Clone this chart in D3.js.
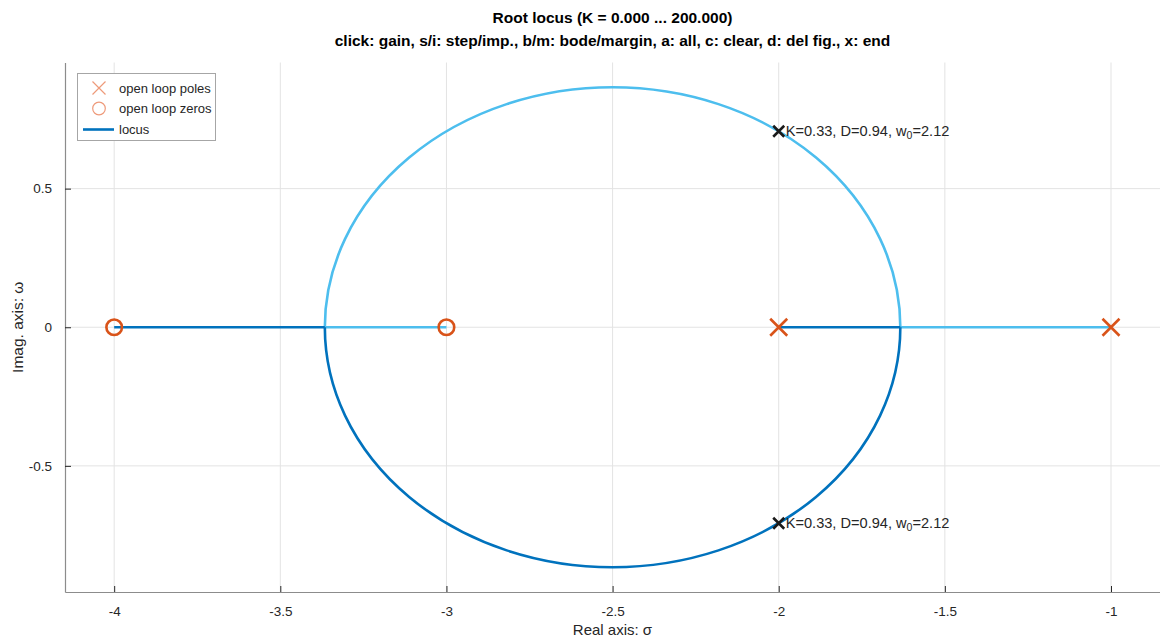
<!DOCTYPE html>
<html>
<head>
<meta charset="utf-8">
<script src="https://cdn.jsdelivr.net/npm/d3@7"></script>
<style>
  body { margin: 0; background: #fff; }
  svg { display: block; font-family: "Liberation Sans", Arial, sans-serif; }
</style>
</head>
<body>
<svg id="chart" width="1160" height="639"></svg>
<script>
// ---- data ----
const titleLines = ["Root locus (K = 0.000 ... 200.000)",
  "click: gain, s/i: step/imp., b/m: bode/margin, a: all, c: clear, d: del fig., x: end"];
const xTicks = [-4, -3.5, -3, -2.5, -2, -1.5, -1];
const yTicks = [-0.5, 0, 0.5];
const poles = [[-1, 0], [-2, 0]];
const zeros = [[-3, 0], [-4, 0]];
const breakaway = [-1.634, -3.366];
const circleCenter = [-2.5, 0];
const circleRadius = 0.866;
// branch starting at pole -1 (light blue): real-axis pieces + upper half circle
const lightAxisSegs = [[[-1, 0], [-1.634, 0]], [[-3.366, 0], [-3, 0]]];
// branch starting at pole -2 (dark blue): real-axis pieces + lower half circle
const darkAxisSegs = [[[-2, 0], [-1.634, 0]], [[-3.366, 0], [-4, 0]]];
const gainPoints = [[-2, 0.707], [-2, -0.707]];
const gainLabel = ["K=0.33, D=0.94, w", "0", "=2.12"];
const legendItems = ["open loop poles", "open loop zeros", "locus"];

// ---- layout ----
const svg = d3.select("#chart");
const pLeft = 65, pRight = 1161, pTop = 62.5, pBottom = 592;
const x = d3.scaleLinear().domain([-4.148, -1 + (pRight - 1111) / 332.2]).range([pLeft, pRight]);
const y = d3.scaleLinear().domain([-0.955, 0.955]).range([pBottom, pTop]);
const darkBlue = "#0072BD", lightBlue = "#4DBEEE", orange = "#D95319", txt = "#262626";

svg.append("defs").append("clipPath").attr("id", "clip")
  .append("rect").attr("x", pLeft).attr("y", pTop).attr("width", pRight - pLeft).attr("height", pBottom - pTop);

// grid
const grid = svg.append("g");
grid.selectAll("line.gx").data(xTicks).join("line")
  .attr("x1", d => x(d)).attr("x2", d => x(d)).attr("y1", pTop).attr("y2", pBottom)
  .attr("stroke", "#e3e3e3").attr("stroke-width", 1);
grid.selectAll("line.gy").data(yTicks).join("line")
  .attr("y1", d => y(d)).attr("y2", d => y(d)).attr("x1", pLeft).attr("x2", pRight)
  .attr("stroke", "#e3e3e3").attr("stroke-width", 1);

// axes
const fmt = d => String(d);
const xAxis = d3.axisBottom(x).tickValues(xTicks).tickSizeInner(-6).tickSizeOuter(0).tickPadding(14).tickFormat(fmt);
const gx = svg.append("g").attr("transform", `translate(0,${pBottom})`).call(xAxis);
const yAxis = d3.axisLeft(y).tickValues(yTicks).tickSizeInner(-6).tickSizeOuter(0).tickPadding(13).tickFormat(fmt);
const gy = svg.append("g").attr("transform", `translate(${pLeft},0)`).call(yAxis);
[gx, gy].forEach(g => {
  g.select(".domain").attr("stroke", "#8c8c8c").attr("stroke-width", 1.2);
  g.selectAll(".tick line").attr("stroke", "#262626").attr("stroke-width", 1);
  g.selectAll(".tick text").attr("fill", txt).attr("font-size", 13.5)
    .attr("font-family", "'Liberation Sans', Arial, sans-serif");
});

// locus
const plot = svg.append("g").attr("clip-path", "url(#clip)");
const lineStraight = d3.line().x(d => x(d[0])).y(d => y(d[1]));
const rx = Math.abs(x(circleCenter[0] + circleRadius) - x(circleCenter[0]));
const ry = Math.abs(y(circleCenter[1] + circleRadius) - y(circleCenter[1]));
const halfArc = (sweep) => {
  const p = d3.path();
  p.moveTo(x(breakaway[0]), y(0));
  return `M${x(breakaway[0])},${y(circleCenter[1])}A${rx},${ry} 0 0 ${sweep} ${x(breakaway[1])},${y(circleCenter[1])}`;
};
plot.selectAll("path.la").data(lightAxisSegs).join("path")
  .attr("d", lineStraight).attr("fill", "none").attr("stroke", lightBlue).attr("stroke-width", 2.6);
plot.append("path").attr("d", halfArc(0))
  .attr("fill", "none").attr("stroke", lightBlue).attr("stroke-width", 2.6);
plot.selectAll("path.da").data(darkAxisSegs).join("path")
  .attr("d", lineStraight).attr("fill", "none").attr("stroke", darkBlue).attr("stroke-width", 2.6);
plot.append("path").attr("d", halfArc(1))
  .attr("fill", "none").attr("stroke", darkBlue).attr("stroke-width", 2.6);

// poles (X)
const xMark = (g, cx, cy, s, color, w) => {
  g.append("path").attr("d", `M${cx - s},${cy - s}L${cx + s},${cy + s}M${cx - s},${cy + s}L${cx + s},${cy - s}`)
    .attr("stroke", color).attr("stroke-width", w).attr("fill", "none");
};
poles.forEach(p => xMark(plot, x(p[0]), y(p[1]), 8.5, orange, 2.6));
plot.selectAll("circle.z").data(zeros).join("circle")
  .attr("cx", d => x(d[0])).attr("cy", d => y(d[1])).attr("r", 7.8)
  .attr("fill", "none").attr("stroke", orange).attr("stroke-width", 2.6);

// gain markers
gainPoints.forEach(p => {
  xMark(plot, x(p[0]), y(p[1]), 5.5, "#1a1a1a", 2.6);
  const t = svg.append("text").attr("x", x(p[0]) + 7).attr("y", y(p[1]) + 5)
    .attr("font-size", 14.6).attr("fill", txt);
  t.append("tspan").text(gainLabel[0]);
  t.append("tspan").attr("font-size", 10.5).attr("dy", 3).text(gainLabel[1]);
  t.append("tspan").attr("dy", -3).text(gainLabel[2]);
});

// legend
const lg = svg.append("g");
lg.append("rect").attr("x", 77.5).attr("y", 73.5).attr("width", 138).attr("height", 67)
  .attr("fill", "#fff").attr("stroke", "#a6a6a6").attr("stroke-width", 1);
xMark(lg, 99, 88, 6.5, "#EE9A7A", 1.2);
lg.append("circle").attr("cx", 99).attr("cy", 108.5).attr("r", 6.3)
  .attr("fill", "none").attr("stroke", "#EE9A7A").attr("stroke-width", 1.2);
lg.append("line").attr("x1", 83).attr("x2", 114).attr("y1", 129.5).attr("y2", 129.5)
  .attr("stroke", darkBlue).attr("stroke-width", 2.6);
lg.selectAll("text").data(legendItems).join("text")
  .attr("x", 119).attr("y", (d, i) => 92.5 + i * 20.5)
  .attr("font-size", 13).attr("fill", txt).text(d => d);

// titles
svg.selectAll("text.title").data(titleLines).join("text")
  .attr("x", (pLeft + 1160) / 2).attr("y", (d, i) => 22.5 + i * 23)
  .attr("text-anchor", "middle").attr("font-weight", "bold").attr("font-size", 15.5)
  .attr("fill", "#000").text(d => d);

// axis labels
svg.append("text").attr("x", (pLeft + 1160) / 2).attr("y", 635).attr("text-anchor", "middle")
  .attr("font-size", 15).attr("fill", txt).text("Real axis: σ");
svg.append("text").attr("transform", `translate(23,${y(0)}) rotate(-90)`).attr("text-anchor", "middle")
  .attr("font-size", 15.5).attr("fill", txt).text("Imag. axis: ω");
</script>
</body>
</html>
